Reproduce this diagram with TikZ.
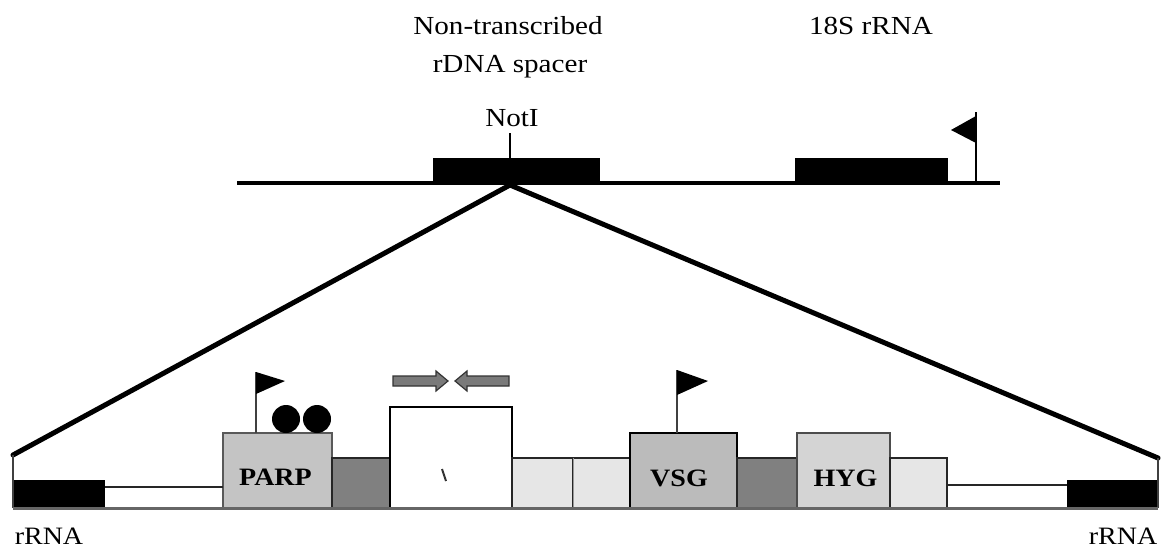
\documentclass[tikz,border=0pt]{standalone}
\usepackage{fontspec}
\setmainfont[FakeStretch=1.12]{Liberation Serif}
\definecolor{parpc}{HTML}{C4C4C4}
\definecolor{vsgc}{HTML}{BBBBBB}
\definecolor{hygc}{HTML}{D4D4D4}
\definecolor{darkc}{HTML}{808080}
\definecolor{checkc}{HTML}{E6E6E6}
\definecolor{arrc}{HTML}{7A7A7A}
\begin{document}
\begin{tikzpicture}[x=1pt,y=-1pt]
\tikzset{
  blk/.style={fill=black, draw=none, inner sep=0pt, outer sep=0pt},
  seg/.style={draw=black!85, line width=2.5pt, inner sep=0pt, outer sep=0pt},
  lbl/.style={font=\fontsize{26}{28}\selectfont, inner sep=0pt},
  glbl/.style={font=\bfseries\fontsize{25}{28}\selectfont, inner sep=0pt},
  pole/.style={line width=2.5pt, draw=black!75},
  flagtip/.style={fill=black},
  tri/.style={line width=5pt, line cap=round},
  thin/.style={line width=2pt, draw=black!85},
  twin/.style={fill=arrc, draw=black!80, line width=1.2pt, line join=miter}
}
\useasboundingbox (0,0) rectangle (1164,551);
\fill[white] (0,0) rectangle (1164,551);

% ---- top locus ----
\coordinate (tl0) at (237,183);
\coordinate (tl1) at (1000,183);
\draw[line width=4pt] (tl0) -- (tl1);
\node[blk, minimum width=167, minimum height=25] (spacer) at (516.5,170.5) {};
\node[blk, minimum width=153, minimum height=25] (r18) at (871.5,170.5) {};
\coordinate (notItop) at (510,133);
\draw[line width=2pt] (spacer.north -| notItop) -- (notItop);
\node[lbl, anchor=base] (notI) at (512,126) {NotI};
\node[lbl, anchor=base] (nts1) at (508,35) {Non-transcribed};
\node[lbl, anchor=base] (nts2) at (510,72) {rDNA spacer};
\node[lbl, anchor=base] (l18s) at (871,35) {18S rRNA};
\coordinate (p18b) at (976,183);
\coordinate (p18t) at (976,112);
\draw[pole, draw=black] (p18b) -- (p18t);
\fill[flagtip] (976,116) -- (951,130) -- (976,143) -- cycle;

% ---- expansion lines ----
\coordinate (cut) at (510,185);
\coordinate (lc) at (13,455);
\coordinate (rc) at (1158,458);
\draw[tri] (cut) -- (lc);
\draw[tri] (cut) -- (rc);

% ---- construct ----
\node[blk, minimum width=92, minimum height=28] (rrl) at (59,494) {};
\node[blk, minimum width=91, minimum height=28] (rrr) at (1112.5,494) {};
\node[seg, fill=parpc, draw=black!65, minimum width=109, minimum height=75] (parp) at (277.5,470.5) {};
\node[seg, fill=darkc, minimum width=58, minimum height=50] (d1) at (361,483) {};
\node[seg, fill=white, draw=black, minimum width=122, minimum height=101] (wb) at (451,457.5) {};
\node[seg, fill=checkc, minimum width=61, minimum height=50] (c1) at (542.5,483) {};
\node[seg, fill=checkc, minimum width=57, minimum height=50] (c2) at (601.5,483) {};
\node[seg, fill=vsgc, draw=black, minimum width=107, minimum height=75] (vsg) at (683.5,470.5) {};
\node[seg, fill=darkc, minimum width=60, minimum height=50] (d2) at (767,483) {};
\node[seg, fill=hygc, draw=black!70, minimum width=93, minimum height=75] (hyg) at (843.5,470.5) {};
\node[seg, fill=checkc, minimum width=57, minimum height=50] (c3) at (918.5,483) {};
\draw[line width=1pt, draw=black!40] (c1.north east) -- (c1.south east);

\node[glbl] (parpt) at (275.5,477) {PARP};
\node[glbl] (vsgt) at (679,478) {VSG};
\node[glbl] (hygt) at (845.5,478) {HYG};
\draw[line width=2pt, draw=black!80] (442,469) -- (446,481);

\draw[thin] (rrl.east |- 0,487) -- (parp.west |- 0,487);
\draw[thin] (c3.east |- 0,485) -- (rrr.west |- 0,485);

\coordinate (bl) at (13,508);
\coordinate (br) at (1158,508);
\draw[line width=2.5pt, draw=black!75] (lc) -- (bl);
\draw[line width=2.5pt, draw=black!75] (rc) -- (br);
\draw[line width=3pt, draw=black!60] (bl) -- (br);

% flags and promoter sites
\coordinate (pf) at (256,372);
\draw[pole] (parp.north -| pf) -- (pf);
\fill[flagtip] (256,372) -- (285,381) -- (256,394) -- cycle;
\coordinate (vf) at (677,370);
\draw[pole] (vsg.north -| vf) -- (vf);
\fill[flagtip] (677,370) -- (708,381) -- (677,395) -- cycle;
\fill[black] (286,419) circle (14);
\fill[black] (317,419) circle (14);

% facing arrows above the white box
\filldraw[twin] (393,376) -- (436,376) -- (436,371) -- (448,381) -- (436,391) -- (436,386) -- (393,386) -- cycle;
\filldraw[twin] (509,376) -- (467,376) -- (467,371) -- (455,381) -- (467,391) -- (467,386) -- (509,386) -- cycle;

\node[lbl, anchor=base, font=\fontsize{25}{27}\selectfont] (rnl) at (49,544) {rRNA};
\node[lbl, anchor=base, font=\fontsize{25}{27}\selectfont] (rnr) at (1123,544) {rRNA};
\end{tikzpicture}
\end{document}
